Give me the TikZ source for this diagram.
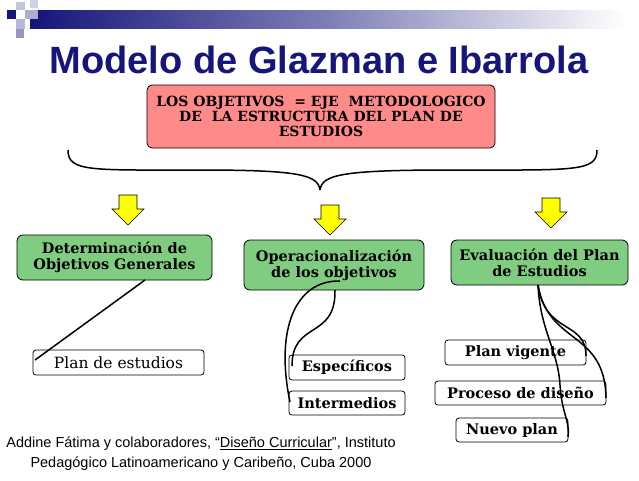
\documentclass[tikz,border=0pt]{standalone}
\usepackage{fontspec}
\setmainfont{Liberation Sans}
\newfontfamily\bx{DejaVu Serif}
\definecolor{ttl}{HTML}{15157A}
\definecolor{redf}{HTML}{FF8A8A}
\definecolor{grnf}{HTML}{80CC80}
\definecolor{yel}{HTML}{FFFF00}
\begin{document}
\begin{tikzpicture}[x=1pt,y=-1pt,
  rbox/.style={draw,rounded corners=5pt,line width=0.8pt,align=center,font=\bx\bfseries\fontsize{14}{15}\selectfont},
  gbox/.style={draw,fill=grnf,rounded corners=6pt,line width=0.8pt,align=center,font=\bx\bfseries\fontsize{14.5}{16}\selectfont,inner sep=0pt},
  wbox/.style={draw,rounded corners=3pt,line width=0.8pt,font=\bx\bfseries\fontsize{14.5}{16}\selectfont,inner sep=0pt},
  yarr/.style={draw,fill=yel,line width=0.6pt},
  conn/.style={line width=1.5pt}]
\useasboundingbox (0,0) rectangle (639,480);
\fill[white] (0,0) rectangle (639,480);
% header
\shade[left color=ttl,right color=white,middle color=ttl!55] (30,10) rectangle (625,28);
\fill[ttl] (7,10) rectangle (16,19);
\fill[ttl!25] (16,2) rectangle (25,10);
\fill[ttl!35] (25,10) rectangle (38,19);
\fill[ttl!30] (16,19) rectangle (25,29);
\fill[ttl!45] (16,29) rectangle (24,38);
\fill[ttl!20] (30,0) rectangle (38,8);
\node[font=\bfseries\fontsize{38}{40}\selectfont,text=ttl] (title) at (319,60) {Modelo de Glazman e Ibarrola};
% red box
\node[rbox,fill=redf,minimum width=348pt,minimum height=63pt,inner sep=2pt] (top) at (321,116.5)
 {LOS OBJETIVOS \ = EJE \ METODOLOGICO\\DE \ LA ESTRUCTURA DEL PLAN DE\\ESTUDIOS};
% brace
\coordinate (bl) at (68,150); \coordinate (br) at (597,150); \coordinate (bt) at (320,190);
\draw[line width=1.5pt] (bl) .. controls (68,172) and (90,170) .. (200,170) .. controls (300,170) and (318,175) .. (bt);
\draw[line width=1.5pt] (br) .. controls (597,172) and (575,170) .. (450,170) .. controls (340,170) and (322,175) .. (bt);
% arrows
\foreach \n/\x/\y in {a1/128/195,a2/330/205,a3/551/198}{
  \draw[yarr] (\x-9,\y) -- (\x+9,\y) -- (\x+9,\y+14) -- (\x+16,\y+14) -- (\x,\y+30) -- (\x-16,\y+14) -- (\x-9,\y+14) -- cycle;
}
% green boxes
\node[gbox,minimum width=195pt,minimum height=45pt] (g1) at (114.5,257.5) {Determinación de\\Objetivos Generales};
\node[gbox,minimum width=180pt,minimum height=50pt] (g2) at (334,265) {Operacionalización\\de los objetivos};
\node[gbox,minimum width=177pt,minimum height=45pt] (g3) at (539.5,262.5) {Evaluación del Plan\\de Estudios};
% white boxes
\node[wbox,minimum width=171pt,minimum height=25pt,font=\bx\fontsize{15.5}{16}\selectfont] (w1) at (118.5,362.5) {Plan de estudios};
\node[wbox,minimum width=116pt,minimum height=25pt] (w2) at (347,367.5) {Específicos};
\node[wbox,minimum width=116pt,minimum height=24pt] (w3) at (347,403) {Intermedios};
\node[wbox,minimum width=141pt,minimum height=25pt] (w4) at (515.5,352.5) {Plan vigente};
\node[wbox,minimum width=171pt,minimum height=24pt] (w5) at (520.5,393) {Proceso de diseño};
\node[wbox,minimum width=112pt,minimum height=24pt] (w6) at (512,430) {Nuevo plan};
% connectors
\draw[conn] (145,280) -- (35,360);
\draw[conn] (335,290) .. controls (336,340) and (292,320) .. (292,366);
\draw[conn] (340,281) .. controls (295,280) and (275,330) .. (290,402);
\draw[conn] (538,285) .. controls (545,335) and (586,320) .. (586,356);
\draw[conn] (538,285) .. controls (548,345) and (605,330) .. (606,398);
\draw[conn] (538,285) .. controls (540,330) and (558,350) .. (560,385) .. controls (562,415) and (570,420) .. (568,437);
% citation
\node[font=\fontsize{14.5}{20}\selectfont,align=center] (cite) at (201,454)
 {Addine Fátima y colaboradores, “\underline{Diseño Curricular}”, Instituto\\Pedagógico Latinoamericano y Caribeño, Cuba 2000};
\end{tikzpicture}
\end{document}
